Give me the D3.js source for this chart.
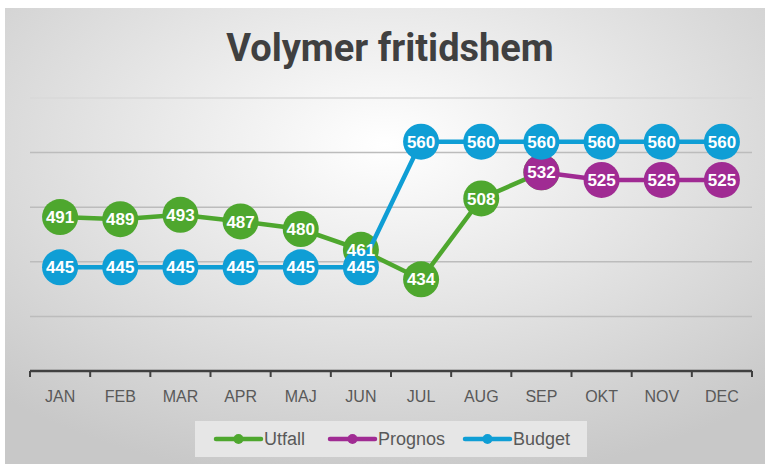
<!DOCTYPE html>
<meta charset="utf-8">
<style>
  body { margin: 0; background: #fff; }
  text { font-family: "Liberation Sans", "Open Sans", sans-serif; }
</style>
<body>
<svg width="768" height="466"></svg>
<script src="https://d3js.org/d3.v7.min.js"></script>
<script>

// Chart values
var months = ["JAN", "FEB", "MAR", "APR", "MAJ", "JUN", "JUL", "AUG", "SEP", "OKT", "NOV", "DEC"];
var utfall = [491, 489, 493, 487, 480, 461, 434, 508, 532, null, null, null];
var prognos = [null, null, null, null, null, null, null, null, 532, 525, 525, 525];
var budget = [445, 445, 445, 445, 445, 445, 560, 560, 560, 560, 560, 560];
var yTicks = [400, 450, 500, 550, 600];

var series = [
  {name: "Utfall", values: utfall, color: "#4ea72e"},
  {name: "Prognos", values: prognos, color: "#a02b93"},
  {name: "Budget", values: budget, color: "#0f9ed5"}
];

const svg = d3.select("svg");

// background with soft radial gradient
const defs = svg.append("defs");
const grad = defs.append("radialGradient")
  .attr("id", "bg")
  .attr("cx", "50%").attr("cy", "30%").attr("r", "75%");
grad.append("stop").attr("offset", "0%").attr("stop-color", "#ffffff");
grad.append("stop").attr("offset", "100%").attr("stop-color", "#c8c8c8");

svg.append("rect")
  .attr("x", 5).attr("y", 8)
  .attr("width", 760).attr("height", 456)
  .attr("fill", "url(#bg)");

// title
svg.append("text")
  .attr("x", 390).attr("y", 61)
  .attr("text-anchor", "middle")
  .attr("fill", "#404040")
  .style("font-family", "Roboto, sans-serif")
  .style("font-weight", "bold")
  .style("font-size", "38px")
  .text("Volymer fritidshem");

// scales
const x = d3.scaleBand().domain(months).range([30, 752]);
const y = d3.scaleLinear().domain([350, 600]).range([371, 98]);
const cx = d => x(d) + x.bandwidth() / 2;

// gridlines
svg.append("g").selectAll("line")
  .data(yTicks)
  .enter().append("line")
  .attr("x1", 30).attr("x2", 752)
  .attr("y1", d => y(d)).attr("y2", d => y(d))
  .attr("stroke", d => d == 600 ? "#d8d8d8" : "#bcbcbc")
  .attr("stroke-width", 1.5);

// x axis
const xAxis = svg.append("g")
  .attr("transform", "translate(0," + y(350) + ")");
xAxis.append("line")
  .attr("x1", 30).attr("x2", 752)
  .attr("stroke", "#404040").attr("stroke-width", 2.5);
xAxis.selectAll(".tk")
  .data(months.concat(["end"]))
  .enter().append("line")
  .attr("x1", (d, i) => 30 + i * x.step())
  .attr("x2", (d, i) => 30 + i * x.step())
  .attr("y1", 0).attr("y2", 6)
  .attr("stroke", "#404040").attr("stroke-width", 2);
xAxis.selectAll("text")
  .data(months)
  .enter().append("text")
  .attr("x", d => cx(d))
  .attr("y", 31)
  .attr("text-anchor", "middle")
  .attr("fill", "#595959")
  .style("font-size", "16px")
  .text(d => d);

// lines + markers
const line = d3.line()
  .defined(d => d.v != null)
  .x(d => cx(d.m))
  .y(d => y(d.v));

const labelLayer = [];
series.forEach(function(s) {
  const pts = s.values.map((v, i) => ({m: months[i], v: v}));
  const g = svg.append("g");
  g.append("path")
    .datum(pts)
    .attr("d", line)
    .attr("fill", "none")
    .attr("stroke", s.color)
    .attr("stroke-width", 4.5);
  g.selectAll(".pt")
    .data(pts.filter(d => d.v != null))
    .enter().append("circle")
    .attr("cx", d => cx(d.m))
    .attr("cy", d => y(d.v))
    .attr("r", 18)
    .attr("fill", s.color);
  labelLayer.push(pts);
});

// data labels on top of every series
labelLayer.forEach(function(pts, si) {
  svg.append("g").selectAll("text")
    .data(pts.filter(d => d.v != null && !(si == 0 && d.m == "SEP")))
    .enter().append("text")
    .attr("x", d => cx(d.m))
    .attr("y", d => y(d.v))
    .attr("dy", "0.36em")
    .attr("text-anchor", "middle")
    .attr("fill", "#fff")
    .style("font-weight", "bold")
    .style("font-size", "17px")
    .text(d => d.v);
});

// legend
const lg = svg.append("g");
lg.append("rect")
  .attr("x", 195).attr("y", 421)
  .attr("width", 392).attr("height", 36)
  .attr("fill", "#e6e6e6");
var legendX = [216, 330, 465];
series.forEach(function(s, i) {
  const item = lg.append("g").attr("transform", "translate(" + legendX[i] + ",439)");
  item.append("line")
    .attr("x1", 0).attr("x2", 45)
    .attr("stroke", s.color).attr("stroke-width", 4.5)
    .attr("stroke-linecap", "round");
  item.append("circle").attr("cx", 22.5).attr("r", 5).attr("fill", s.color);
  item.append("text")
    .attr("x", 48).attr("dy", "0.35em")
    .attr("fill", "#595959")
    .style("font-size", "18px")
    .text(s.name);
});

</script>
</body>
